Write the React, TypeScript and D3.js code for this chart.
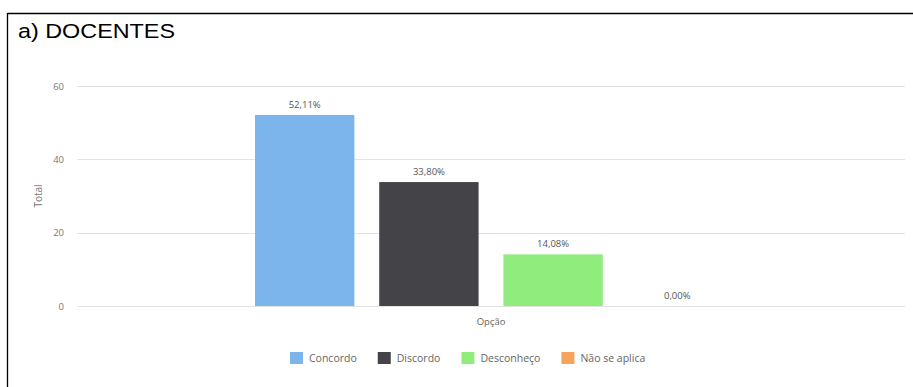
import React, { useEffect, useRef } from "react";
import * as d3 from "d3";

const categories = ["Concordo", "Discordo", "Desconheço", "Não se aplica"];
const values = [52.11, 33.8, 14.08, 0];
const colors = ["#7cb5ec", "#434348", "#90ed7d", "#f7a35c"];
const yTicks = [0, 20, 40, 60];
const groupLabel = "Opção";
const title = "a) DOCENTES";

export default function App() {
  const ref = useRef<SVGSVGElement>(null);

  useEffect(() => {
    const svg = d3.select(ref.current);
    svg.selectAll("*").remove();
    const W = 913, H = 387;
    const left = 77, right = 905, top = 86, bottom = 306;
    const font = "'Open Sans', 'DejaVu Sans', sans-serif";

    svg.append("rect").attr("x", 0).attr("y", 0).attr("width", W).attr("height", H).attr("fill", "#fff");
    // frame (left + top)
    svg.append("line").attr("x1", 7.5).attr("x2", W).attr("y1", 13.5).attr("y2", 13.5).attr("stroke", "#000").attr("stroke-width", 1.3);
    svg.append("line").attr("x1", 7.5).attr("x2", 7.5).attr("y1", 13).attr("y2", H).attr("stroke", "#000").attr("stroke-width", 1.3);

    svg.append("text").attr("x", 18).attr("y", 38).attr("font-family", "'Liberation Sans', Arial, sans-serif")
      .attr("font-size", 20.5).attr("fill", "#000")
      .attr("textLength", 157).attr("lengthAdjust", "spacingAndGlyphs").text(title);

    const y = d3.scaleLinear().domain([0, 60]).range([bottom, top]);
    const outer = d3.scaleBand().domain([groupLabel]).range([left, right]).paddingInner(0).paddingOuter(0);
    const groupPad = 0.2;
    const cw = outer.bandwidth();
    const gx0 = outer(groupLabel)! + cw * groupPad;
    const x = d3.scaleBand().domain(categories).range([gx0, gx0 + cw * (1 - 2 * groupPad)]).paddingInner(0.2).paddingOuter(0.1);

    // grid
    svg.append("g").selectAll("line").data(yTicks).join("line")
      .attr("x1", left).attr("x2", right)
      .attr("y1", d => Math.round(y(d)) + 0.5).attr("y2", d => Math.round(y(d)) + 0.5)
      .attr("stroke", "#e3e3e3").attr("stroke-width", 1);
    svg.append("g").selectAll("text").data(yTicks).join("text")
      .attr("x", 64).attr("y", d => y(d) + 3.5).attr("text-anchor", "end")
      .attr("font-family", font).attr("font-size", 9.5).attr("fill", "#777").text(d => String(d));

    svg.append("text").attr("transform", `translate(42,${(top + bottom) / 2}) rotate(-90)`)
      .attr("text-anchor", "middle").attr("font-family", font).attr("font-size", 10).attr("fill", "#777").text("Total");

    // bars
    const bw = x.bandwidth();
    const bars = svg.append("g");
    categories.forEach((c, i) => {
      const v = values[i];
      if (v > 0) {
        bars.append("rect").attr("x", x(c)!).attr("y", y(v)).attr("width", bw).attr("height", y(0) - y(v)).attr("fill", colors[i]);
      }
      bars.append("text").attr("x", x(c)! + bw / 2).attr("y", y(v) - 7).attr("text-anchor", "middle")
        .attr("font-family", font).attr("font-size", 9.5).attr("fill", "#555")
        .text(v.toFixed(2).replace(".", ",") + "%");
    });

    svg.append("text").attr("x", (left + right) / 2).attr("y", 325).attr("text-anchor", "middle")
      .attr("font-family", font).attr("font-size", 9.5).attr("fill", "#666").text(groupLabel);

    // legend
    const lg = svg.append("g");
    let cx = 290;
    categories.forEach((c, i) => {
      lg.append("rect").attr("x", cx).attr("y", 352).attr("width", 13).attr("height", 12).attr("fill", colors[i]);
      const t = lg.append("text").attr("x", cx + 19).attr("y", 362).attr("font-family", font)
        .attr("font-size", 10.5).attr("fill", "#666").text(c);
      const tw = (t.node() as SVGTextElement).getComputedTextLength();
      cx += 19 + tw + 21;
    });
  }, []);

  return <svg ref={ref} width={913} height={387} style={{ display: "block", position: "absolute", left: 0, top: 0 }} />;
}
